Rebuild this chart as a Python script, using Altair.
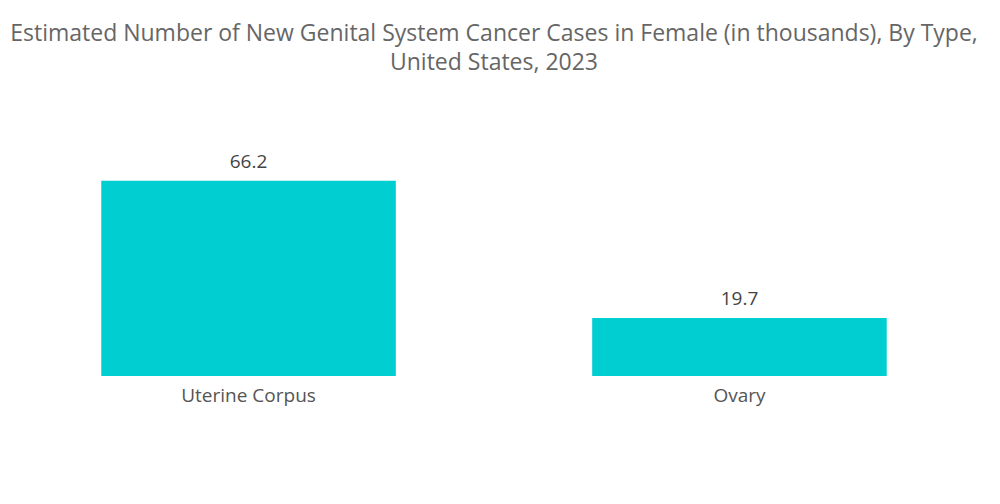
import altair as alt
import pandas as pd

categories = ["Uterine Corpus", "Ovary"]
values = [66.2, 19.7]

df = pd.DataFrame({"type": categories, "cases": values})

FONT = "Open Sans"

base = alt.Chart(df).encode(
    x=alt.X("type:N", sort=categories,
            scale=alt.Scale(paddingInner=0.4, paddingOuter=0.19),
            axis=alt.Axis(title=None, labelAngle=0, domain=False, ticks=False,
                          labelFontSize=19, labelColor="#555555", labelPadding=10,
                          labelFont=FONT)),
    y=alt.Y("cases:Q", scale=alt.Scale(domain=[0, 80]), axis=None),
)

bars = base.mark_bar(color="#00CED1")
labels = base.mark_text(dy=-9, baseline="bottom", fontSize=19, color="#444444",
                        font=FONT).encode(text=alt.Text("cases:Q", format=".1f"))

chart = (bars + labels).properties(
    width=972, height=236,
    padding={"left": 0, "right": 0, "top": 15, "bottom": 20},
    title=alt.TitleParams(
        text=["Estimated Number of New Genital System Cancer Cases in Female (in thousands), By Type,",
              "United States, 2023"],
        fontSize=23, font=FONT, fontWeight="normal", color="#666666",
        anchor="middle", lineHeight=29, offset=65),
).configure_view(stroke=None)

chart.save("out.html", embed_options={"renderer": "svg", "actions": False})
